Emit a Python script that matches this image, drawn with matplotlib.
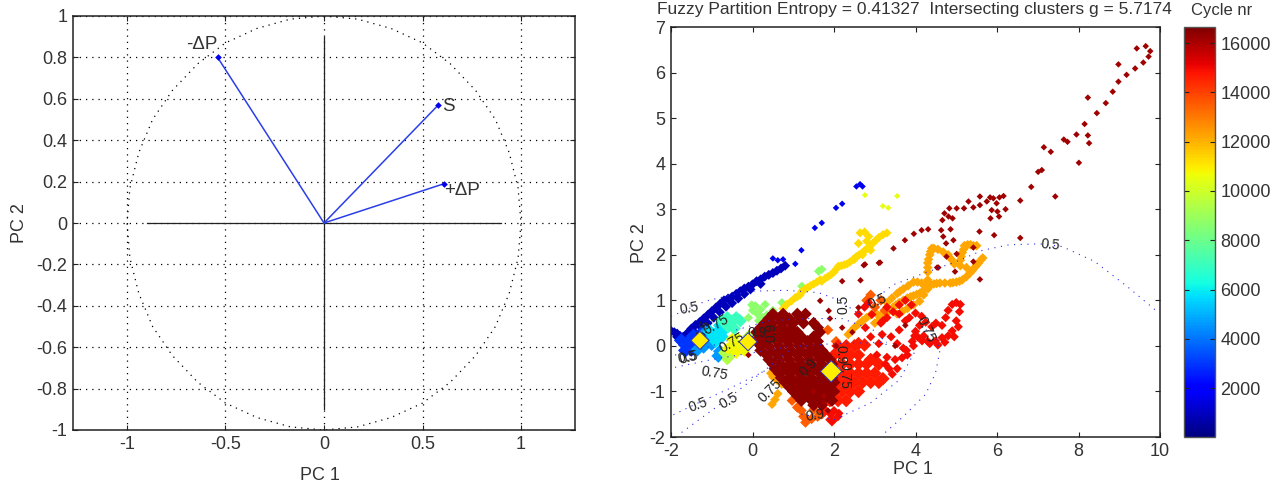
import matplotlib
matplotlib.use("Agg")
import matplotlib.pyplot as plt
from matplotlib.cm import ScalarMappable
from matplotlib.colors import Normalize

plt.rcParams['font.family'] = ['Liberation Sans', 'DejaVu Sans']

# ---------- left panel data ----------
loading_names = ['-ΔP', 'S', '+ΔP']
loading_pc1 = [-0.54, 0.58, 0.61]
loading_pc2 = [0.80, 0.57, 0.19]
circle_pc1 = [0, .17, .34, .5, .64, .77, .87, .94, .985, 1, .985, .94, .87, .77, .64, .5, .34, .17, 0,
              -.17, -.34, -.5, -.64, -.77, -.87, -.94, -.985, -1, -.985, -.94, -.87, -.77, -.64, -.5, -.34, -.17, 0]
circle_pc2 = [1, .985, .94, .87, .77, .64, .5, .34, .17, 0, -.17, -.34, -.5, -.64, -.77, -.87, -.94, -.985, -1,
              -.985, -.94, -.87, -.77, -.64, -.5, -.34, -.17, 0, .17, .34, .5, .64, .77, .87, .94, .985, 1]
left_xticks = [-1, -0.5, 0, 0.5, 1]
left_xlabels = ['-1', '-0.5', '0', '0.5', '1']
left_yticks = [-1, -.8, -.6, -.4, -.2, 0, .2, .4, .6, .8, 1]
left_ylabels = ['-1', '-0.8', '-0.6', '-0.4', '-0.2', '0', '0.2', '0.4', '0.6', '0.8', '1']

# ---------- right panel data: tracks of (PC1, PC2) ----------
navy_x = [-2, -1.92, -1.85, -1.78, -1.7, -1.6, -1.5, -1.4, -1.3, -1.2, -1.1, -1, -.9, -.8, -.7, -.6, -.5, -.4, -.3, -.2, -.1, 0, .1, .2, .3, .4, .5, .6, .7, .8,
          -1.85, -1.7, -1.55, -1.4, -1.25, -1.1, -.95, -.8, -.65, -.5, -.35, -.2, -.05, .2]
navy_y = [.33, .3, .27, .22, .2, .28, .38, .46, .52, .6, .68, .76, .84, .92, 1, 1.04, 1.08, 1.14, 1.2, 1.26, 1.3, 1.35, 1.42, 1.46, 1.52, 1.56, 1.6, 1.65, 1.7, 1.76,
          .2, .14, .2, .28, .4, .5, .62, .74, .86, .94, 1.04, 1.14, 1.24, 1.36]
blue_x = [.5, .62, .75, 1.05, 1.2, 1.53, 1.7, 2.05, 2.2, 2.55, 2.64, 2.7]
blue_y = [1.92, 1.88, 1.9, 1.8, 2.1, 2.59, 2.7, 3.03, 3.12, 3.5, 3.55, 3.5]
midblue_x = [-1.75, -1.65, -1.55, -1.45, -1.65, -1.5, -1.35, -1.25]
midblue_y = [.12, .02, .12, .22, -.1, -.08, -.02, .28]
azure_x = [-1.3, -1.2, -1.1, -1.0, -1.15, -1.35, -.84, -.8]
azure_y = [.1, -.02, .12, .04, .3, -.08, -.22, -.12]
cyan_x = [-1.05, -.95, -.85, -.9, -.75, -.8, -.65]
cyan_y = [.32, .2, .32, .1, .2, .45, .4]
teal_x = [-.75, -.62, -.5, -.4, -.6, -.3, -.45]
teal_y = [.56, .62, .55, .62, .42, .55, .38]
green_x = [-.1, .07, .2, .31, .15, .35, .5, .72, 1.21, 1.62, 1.7, -.65, .0, .12, .25, -.02]
green_y = [.62, .88, .8, .91, .55, .68, .78, .95, 1.31, 1.64, 1.68, -.28, .78, .7, .62, .9]
lime_x = [-.62, -.52, -.42, -.3, -.7, -.2, -.1]
lime_y = [-.3, -.2, -.1, -.02, -.15, .1, .22]
yellowbig_x = [-.6, -.45, -.3, -.2, -.4, -.5]
yellowbig_y = [-.05, .05, .0, -.1, -.15, .15]
yellow_x = [-.5, -.4, -.28, -.15, 2.76, 3.2, 3.33, 3.55, -.35, -.05]
yellow_y = [.02, .12, .02, .0, 3.31, 3.07, 3.03, 3.29, .22, .12]
gold_x = [.75, .84, .95, 1.05, 1.1, 1.17, 1.21, 1.28, 1.35, 1.42, 1.5, 1.58, 1.66, 1.7, 1.78, 1.85, 1.92, 2.0, 2.05, 2.11, 2.18, 2.25, 2.32, 2.39, 2.47, 2.55, 2.62, 2.7, 2.76, 2.82, 2.88, 2.96, 3.03, 3.1, 3.2, 3.3,
          2.64, 2.75, 2.85, 2.9, 2.7, 2.5, 2.6, 2.8, .1, .3]
gold_y = [.82, .91, .98, 1.06, 1.08, 1.12, 1.2, 1.24, 1.28, 1.32, 1.36, 1.4, 1.45, 1.42, 1.48, 1.52, 1.56, 1.62, 1.68, 1.75, 1.76, 1.78, 1.8, 1.84, 1.9, 1.96, 2.0, 2.05, 2.1, 2.14, 2.18, 2.26, 2.32, 2.38, 2.44, 2.48,
          2.48, 2.5, 2.4, 2.1, 2.0, 1.9, 2.25, 2.3, .28, .2]
orange_x = [3.0, 3.1, 3.2, 3.32, 3.45, 3.52, 3.6, 3.7, 3.8, 3.88, 3.95, 4.03, 4.11, 4.2, 4.3, 4.38, 4.45, 4.52, 4.6, 4.72, 4.85, 4.92, 5.0, 5.08, 5.15, 5.25, 5.34, 5.4, 5.45, 5.5, 5.55, 5.6, 5.65,
            5.1, 5.12, 5.15, 5.18, 5.2, 5.28, 5.35, 5.42, 5.5, 4.4, 4.37, 4.35, 4.32, 4.3, 4.3, 4.3, 4.3, 4.45, 4.55, 4.68, 4.8, 4.88, 4.95, 5.1, 5.25,
            3.3, 3.42, 3.55, 3.62, 3.7, 3.82, 3.95, 4.05, 4.15, 4.22, 4.3, 4.2, 4.1, 3.95, 3.8, 3.68, 3.55, 3.2, 3.05, 2.9, 2.8, 2.7, 2.6, 2.5, 2.42, 2.35,
            .48, .55, .62, .72, .6, .5, .45]
orange_y = [.5, .56, .62, .74, .85, .9, .95, 1.0, 1.05, 1.08, 1.1, 1.13, 1.16, 1.22, 1.3, 1.34, 1.36, 1.37, 1.38, 1.38, 1.38, 1.39, 1.4, 1.42, 1.45, 1.52, 1.6, 1.66, 1.72, 1.77, 1.82, 1.88, 1.93,
            1.88, 1.96, 2.05, 2.12, 2.2, 2.22, 2.22, 2.2, 2.2, 2.14, 2.07, 2.0, 1.9, 1.82, 1.72, 1.62, 1.45, 2.14, 2.12, 2.06, 2.0, 1.9, 1.8, 1.76, 1.72,
            .95, 1.05, 1.15, 1.2, 1.25, 1.32, 1.4, 1.4, 1.38, 1.32, 1.25, 1.12, .98, .9, .82, .76, .7, .72, .7, .68, .62, .55, .48, .4, .32, .25,
            -1.28, -1.18, -1.05, -.84, -.75, -.68, -.6]
redorange_x = [.97, 1.1, 1.25, 1.3, 1.45, 1.6, 1.7, 1.2, 1.05, 2.8, 2.9, 3.0, 3.15, 3.25, 1.5, 1.85, 2.05]
redorange_y = [-1.2, -1.35, -1.55, -1.68, -1.6, -1.55, -1.5, -1.42, -1.05, 1.0, 1.12, .85, 1.0, .78, -1.4, .35, .1]
red_big_x = [2.1, 2.3, 2.5, 2.0, 2.2, 2.4, 2.6, 2.0, 2.2, 2.4, 2.6, 2.8, 2.0, 2.2, 2.4, 2.6, 2.8, 3.0,
             1.9, 2.1, 2.3, 2.5, 2.7, 2.9, 3.1, 1.8, 2.0, 2.2, 2.4, 2.6, 1.7, 1.9, 2.1, 2.3, 1.75, 1.95,
             2.9, 3.1, 3.2, 2.6, 2.75]
red_big_y = [.0, .0, .0, -.2, -.2, -.2, -.2, -.4, -.4, -.4, -.4, -.4, -.6, -.6, -.6, -.6, -.6, -.6,
             -.8, -.8, -.8, -.8, -.8, -.8, -.8, -1, -1, -1, -1, -1, -1.2, -1.2, -1.2, -1.2, -1.42, -1.62,
             -.3, -.4, -.72, .05, .02]
red_x = [3.26, 3.35, 3.43, 3.55, 3.67, 3.78, 3.92, 4.05, 4.16, 4.3, 4.49, 4.65, 4.8, 4.9, 5.0, 5.08, 5.1, 5.0, 4.9, 4.8, 4.74, 4.65,
         3.9, 3.75, 3.6, 3.45, 3.3, 3.15, 2.93, 2.77, 2.9, 3.18, 3.1, 3.4, 3.6, 3.2, 3.3, 4.0, 4.1, 4.25, 4.4, 4.5, 3.85, 4.0, 4.15, 3.7, 3.55, 2.6, 2.75,
         1.95, 2.1, 1.92, 2.0, 2.12, 3.6, 3.75, 2.85, 3.05, 3.3, 3.5, 3.8, 3.95, 4.35, 4.55, 4.72, 4.95, 5.05, 4.2, 3.98]
red_y = [-.4, -.5, -.62, -.5, -.26, -.1, .1, .2, .11, .1, .11, .18, .22, .33, .55, .75, .91, .95, .91, .78, .62, .45,
         .9, 1.0, .9, .75, .62, .5, .69, .4, .2, .25, .05, .2, .35, .55, .85, .32, .45, .52, .42, .5, .62, .72, .65, -.05, .05, .7, .85,
         -1.65, -1.55, -1.5, -1.42, -1.48, .7, .55, .95, -.2, -.25, -.3, -.2, .0, .05, .02, .08, .2, .42, .22, .22]
darkred_x = [.5, .75, 1.1, 1.3, .3, .5, .75, 1, 1.25, 1.5, .1, .35, .6, .85, 1.1, 1.65,
             .1, .3, .6, .85, 1.1, 1.35, 1.6, .2, .45, .7, .95, 1.2, 1.45, 1.7,
             .4, .65, .9, 1.15, 1.4, 1.65, 1.9, .55, .8, 1.05, 1.3, 1.55, 1.8,
             .7, .95, 1.2, 1.45, 1.7, 1.95, .9, 1.15, 1.4, 1.65, 1.9, 1.1, 1.35, 1.6, 1.85, 1.5, 1.7,
             .4, .65, .9, 1.15, .2, .45, .7, .95, 1.6, .2, .45, .7, .95, 1.2, 1.5,
             .2, .4, .65, .9, 1.15, 1.4, 1.6, .35, .6, .85, 1.1, 1.35, 1.6, 1.8,
             .5, .7, .95, 1.2, 1.45, 1.7, 1.95, .65, .9, 1.15, 1.4, 1.65, 1.9,
             .8, 1.05, 1.3, 1.55, 1.8, 2.0, 1, 1.25, 1.5, 1.75, 2, 1.2, 1.45, 1.7, 1.95]
darkred_y = [.7, .7, .7, .7, .5, .5, .5, .5, .5, .5, .3, .3, .3, .3, .3, .3,
             .1, .1, .1, .1, .1, .1, .1, -.1, -.1, -.1, -.1, -.1, -.1, -.1,
             -.3, -.3, -.3, -.3, -.3, -.3, -.3, -.5, -.5, -.5, -.5, -.5, -.5,
             -.7, -.7, -.7, -.7, -.7, -.7, -.9, -.9, -.9, -.9, -.9, -1.1, -1.1, -1.1, -1.1, -1.3, -1.3,
             .6, .6, .6, .6, .4, .4, .4, .4, .4, .2, .2, .2, .2, .2, .2,
             0, 0, 0, 0, 0, 0, 0, -.2, -.2, -.2, -.2, -.2, -.2, -.2,
             -.4, -.4, -.4, -.4, -.4, -.4, -.4, -.6, -.6, -.6, -.6, -.6, -.6,
             -.8, -.8, -.8, -.8, -.8, -.8, -1, -1, -1, -1, -1, -1.2, -1.2, -1.2, -1.2]
sparse_x = [9.65, 9.43, 9.76, 9.72, 9.59, 9.39, 8.98, 9.18, 8.98, 8.84, 8.67, 8.23, 8.45, 8.15, 7.95, 8.23, 7.64, 7.73, 8.26, 7.15,
            7.32, 8.01, 7.10, 7.01, 6.84, 7.43, 6.57, 6.16, 6.06, 5.83, 5.91, 5.58, 5.75, 5.58, 5.42, 5.30, 5.19, 5.01, 4.83, 4.71,
            4.81, 4.91, 4.66, 4.63, 4.31, 4.15, 3.96, 3.74, 3.46, 5.99, 5.87, 6.01, 6.21, 6.05, 5.84, 5.57, 5.93, 4.86, 4.68, 4.75,
            4.93, 6.57, 3.13, 2.76, 4.76, 5.01, 5.42, 4.56, 4.97, 5.58, 5.42, 2.73, 3.1, 2.2, 2.65, 4.53, 1.66, 1.87, 2.6,
            1.9, 2.2, 2.45, 3.5, 3.75, 2.05, 1.5, 1.75, -.1, .05, 1.85, 1.75]
sparse_y = [6.58, 6.53, 6.47, 6.35, 6.22, 6.09, 6.18, 5.95, 5.80, 5.58, 5.33, 5.45, 5.11, 4.87, 4.64, 4.62, 4.53, 4.48, 4.45, 4.36,
            4.26, 4.02, 3.86, 3.82, 3.49, 3.28, 3.19, 3.29, 3.26, 3.26, 3.24, 3.28, 3.17, 3.09, 3.04, 3.17, 3.02, 3.02, 3.02, 2.91,
            2.84, 2.80, 2.76, 2.54, 2.56, 2.54, 2.46, 2.32, 2.14, 3.13, 2.98, 2.95, 3.0, 2.84, 2.80, 2.51, 2.43, 2.56, 2.40, 2.25,
            2.32, 2.37, 1.83, 1.79, 1.96, 2.02, 2.16, 1.72, 1.63, 1.46, 1.85, 1.77, 1.82, 1.42, 1.44, 1.72, .99, .77, .84,
            .6, .4, .3, .0, .45, .0, -1.0, -1.1, -.2, .15, -1.42, -1.25]

# (PC1, PC2, cycle nr, marker area)
tracks = [
    (navy_x, navy_y, 900, 26),
    (blue_x, blue_y, 1700, 11),
    (midblue_x, midblue_y, 3000, 55),
    (azure_x, azure_y, 4600, 50),
    (cyan_x, cyan_y, 5800, 50),
    (teal_x, teal_y, 7000, 45),
    (green_x, green_y, 8700, 22),
    (lime_x, lime_y, 9400, 35),
    (yellowbig_x, yellowbig_y, 10800, 40),
    (yellow_x, yellow_y, 10500, 10),
    (gold_x, gold_y, 11300, 22),
    (orange_x, orange_y, 12200, 24),
    (redorange_x, redorange_y, 13500, 30),
    (red_big_x, red_big_y, 14700, 48),
    (red_x, red_y, 14900, 22),
    (darkred_x, darkred_y, 16450, 42),
    (sparse_x, sparse_y, 16150, 11),
]

centre_x = [-1.29, -0.11, 1.93]
centre_y = [0.12, 0.09, -0.56]
centre_size = [85, 85, 120]

# membership contour lines
contours = [
    ([-2, -1.78, -1.16, -.6, 0, .8, 1.62, 2.16, 2.6], [.65, .73, .98, 1.1, 1.2, 1.22, 1.17, .99, .7]),
    ([2.6, 2.88, 3.45, 4.28, 5.0, 5.65, 6.3, 7.05, 7.6, 8.4, 9.2, 9.95], [.7, .94, 1.34, 1.62, 1.85, 2.1, 2.22, 2.24, 2.18, 1.85, 1.3, .74]),
    ([-1.94, -1.33, -.6, .15, .8], [-1.51, -1.25, -.95, -.62, -.3]),
    ([-1.74, -.67, .39, .9], [-1.9, -1.2, -.47, -.1]),
    ([-1.9, -1, 0, .9, 2, 3.3], [-.47, -.3, -.15, -.02, .05, .08]),
    ([-1.9, -1.4, -1, -.6], [-.2, -.1, .0, .12]),
    ([3.26, 3.7, 4.25, 4.49, 4.6, 4.5, 4.25], [-1.9, -1.55, -1.06, -.6, -.1, .15, .36]),
    ([1.2, 2.0, 2.9, 3.6, 4.0], [-1.5, -1.62, -1.25, -.75, -.1]),
    ([-.4, .4, 1.3, 2.2, 3.1, 3.3], [.35, .55, .6, .6, .3, .0]),
]
contour_labels = ['0.5', '0.75', '0.5', '0.75', '0.5', '0.5', '0.75', '0.5', '0.5', '0.75', '0.5', '0.5', '0.75',
                  '0.9', '0.9', '0.9', '0.9', '0.75', '0.9', '0.5']
label_x = [-1.56, -.88, -1.2, -.51, -1.6, -1.56, -.93, -1.33, -.59, .43, 2.24, 3.06, 4.25, .1, .46, 1.38, 2.16, 2.25, 1.54, 7.3]
label_y = [.82, .47, .36, .07, -.26, -.26, -.6, -1.29, -1.2, -.99, .91, .98, .36, .29, .29, -.47, -.18, -.66, -1.53, 2.21]
label_rot = [10, 30, 70, 30, 10, 15, -10, 20, 30, 45, 90, 25, -65, 0, 90, 45, -90, -90, 10, -5]

cb_ticks = [2000, 4000, 6000, 8000, 10000, 12000, 14000, 16000]
right_xticks = [-2, 0, 2, 4, 6, 8, 10]
right_yticks = [-2, -1, 0, 1, 2, 3, 4, 5, 6, 7]

W, H = 1278, 483
TXT = '#333333'
FS = 13


def box(l, t, r, b):
    return [l / W, 1 - b / H, (r - l) / W, (b - t) / H]


fig = plt.figure(figsize=(W / 100, H / 100), dpi=100, facecolor='white')


def style(ax):
    for s in ax.spines.values():
        s.set_color('#222222')
        s.set_linewidth(1.1)
    ax.tick_params(direction='in', length=3.5, width=0.8, top=True, right=True,
                   labelsize=FS, labelcolor=TXT, color='#222222', pad=4)


# left panel
ax = fig.add_axes(box(73, 16, 575, 430))
ax.set_xlim(-1.274, 1.274)
ax.set_ylim(-1, 1)
style(ax)
ax.set_xticks(left_xticks, left_xlabels)
ax.set_yticks(left_yticks, left_ylabels)
ax.grid(True, color='black', linestyle=(0, (1, 4)), linewidth=0.9)
ax.set_axisbelow(True)
ax.plot(circle_pc1, circle_pc2, color='black', linestyle=(0, (1, 4)), linewidth=0.9)
ax.plot([-0.9, 0.9], [0, 0], color='#222222', lw=0.9)
ax.plot([0, 0], [-0.9, 0.9], color='#222222', lw=0.9)
for px, py in zip(loading_pc1, loading_pc2):
    ax.plot([0, px], [0, py], color='#2a3fe8', lw=1.1)
ax.plot(loading_pc1, loading_pc2, 'D', color='#0000ee', ms=3.4, mew=0, ls='none')
ax.text(loading_pc1[0] + 0.0, loading_pc2[0] + 0.02, loading_names[0], fontsize=13.5, color=TXT, ha='right', va='bottom')
ax.text(loading_pc1[1] + 0.02, loading_pc2[1] - 0.005, loading_names[1], fontsize=13.5, color=TXT, ha='left', va='center')
ax.text(loading_pc2[2] + loading_pc1[2] - 0.19, loading_pc2[2] - 0.035, loading_names[2], fontsize=13.5, color=TXT, ha='left', va='center')
ax.set_xlabel('PC 1', fontsize=FS, color=TXT)
ax.set_ylabel('PC 2', fontsize=FS, color=TXT)
ax.xaxis.set_label_coords((320 - 73) / 502, -(475 - 430) / 414)
ax.yaxis.set_label_coords(-(73 - 20) / 502, 0.5)
ax.xaxis.label.set_va('center')
ax.yaxis.label.set_va('center')

# right panel
ax2 = fig.add_axes(box(671, 27, 1160, 437))
ax2.set_xlim(-2, 10)
ax2.set_ylim(-2, 7)
style(ax2)
ax2.set_xticks(right_xticks, [str(v) for v in right_xticks])
ax2.set_yticks(right_yticks, [str(v) for v in right_yticks])
norm = Normalize(16, 16650)
cmap = plt.get_cmap('jet')
for tx, ty, cyc, size in tracks:
    ax2.scatter(tx, ty, s=size, c=[cyc] * len(tx), cmap=cmap, norm=norm, marker='D', linewidths=0, zorder=2)
for cx, cy in contours:
    ax2.plot(cx, cy, color='#2a2af0', linestyle=(0, (1, 5)), linewidth=0.8, zorder=3)
for t, lx, ly, r in zip(contour_labels, label_x, label_y, label_rot):
    ax2.text(lx, ly, t, fontsize=10, color='#222222', rotation=r, ha='center', va='center',
             rotation_mode='anchor', zorder=4)
ax2.scatter(centre_x, centre_y, s=centre_size, c='#ffee00', marker='D', edgecolors='#3030c0',
            linewidths=0.7, zorder=5)
ax2.set_title('Fuzzy Partition Entropy = 0.41327  Intersecting clusters g = 5.7174',
              fontsize=12.5, color=TXT, pad=9.5, x=(914.5 - 671) / 489)
ax2.set_xlabel('PC 1', fontsize=FS, color=TXT)
ax2.set_ylabel('PC 2', fontsize=FS, color=TXT)
ax2.xaxis.set_label_coords((913 - 671) / 489, -(470 - 437) / 410)
ax2.yaxis.set_label_coords(-(671 - 639) / 489, (437 - 243) / 410)
ax2.xaxis.label.set_va('center')
ax2.yaxis.label.set_va('center')

# colour bar
cax = fig.add_axes(box(1184, 27, 1215, 437))
cb = fig.colorbar(ScalarMappable(norm=norm, cmap=cmap), cax=cax, ticks=cb_ticks)
cb.ax.set_yticklabels([str(v) for v in cb_ticks])
cb.ax.tick_params(direction='in', length=3.5, width=0.8, left=True, right=True,
                  labelsize=FS, labelcolor=TXT, color='#222222', pad=4)
cb.outline.set_edgecolor('#555555')
cb.outline.set_linewidth(1.0)
fig.text(1222 / W, 1 - 11 / H, 'Cycle nr', fontsize=12, color=TXT, ha='center', va='center')

fig.savefig('out.png', dpi=100)
